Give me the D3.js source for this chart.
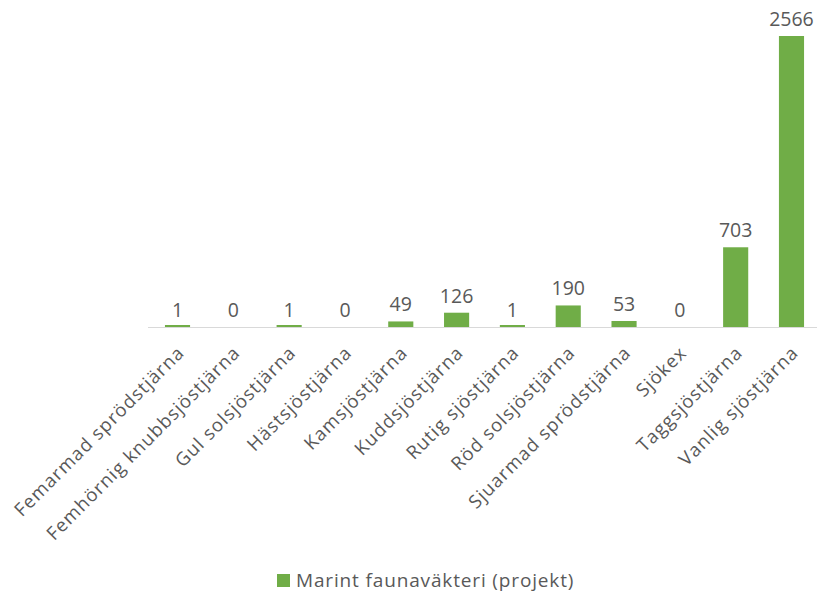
<!DOCTYPE html>
<html>
<head>
<meta charset="utf-8">
<script src="https://cdn.jsdelivr.net/npm/d3@7"></script>
<style>
  html, body { margin: 0; padding: 0; background: #fff; }
  svg { display: block; font-family: "Open Sans", "Noto Sans", sans-serif; }
</style>
</head>
<body>
<svg id="chart" width="817" height="599"></svg>
<script>
// Observations per species
const species = [
  "Femarmad sprödstjärna",
  "Femhörnig knubbsjöstjärna",
  "Gul solsjöstjärna",
  "Hästsjöstjärna",
  "Kamsjöstjärna",
  "Kuddsjöstjärna",
  "Rutig sjöstjärna",
  "Röd solsjöstjärna",
  "Sjuarmad sprödstjärna",
  "Sjökex",
  "Taggsjöstjärna",
  "Vanlig sjöstjärna"
];
const counts = [1, 0, 1, 0, 49, 126, 1, 190, 53, 0, 703, 2566];
const seriesName = "Marint faunaväkteri (projekt)";

const svg = d3.select("#chart");
const green = "#70AD47";
const textColor = "#595959";

const x = d3.scaleBand()
  .domain(species)
  .range([149.6, 819.4])
  .paddingInner(0.55)
  .paddingOuter(0.275);

const y = d3.scaleLinear()
  .domain([0, 2566])
  .range([327, 36]);

// Bars (tiny non-zero values get a hairline so they stay visible)
svg.append("g").selectAll("rect")
  .data(species)
  .join("rect")
  .attr("x", d => x(d))
  .attr("width", x.bandwidth())
  .attr("y", (d, i) => counts[i] > 0 ? Math.min(y(counts[i]), y(0) - 2) : y(0))
  .attr("height", (d, i) => counts[i] > 0 ? Math.max(y(0) - y(counts[i]), 2) : 0)
  .attr("fill", green);

// Baseline
svg.append("line")
  .attr("x1", 148).attr("x2", 817)
  .attr("y1", y(0) + 0.5).attr("y2", y(0) + 0.5)
  .attr("stroke", "#d9d9d9")
  .attr("stroke-width", 1);

// Value labels
svg.append("g").selectAll("text")
  .data(species)
  .join("text")
  .attr("x", d => x(d) + x.bandwidth() / 2)
  .attr("y", (d, i) => y(counts[i]) - 10)
  .attr("text-anchor", "middle")
  .attr("font-size", 19.5)
  .attr("fill", textColor)
  .text((d, i) => counts[i]);

// Category labels, rotated
svg.append("g").selectAll("text")
  .data(species)
  .join("text")
  .attr("transform", d => `translate(${x(d) + x.bandwidth() / 2 + 8},${y(0) + 27}) rotate(-45)`)
  .attr("text-anchor", "end")
  .attr("font-size", 18.5)
  .attr("letter-spacing", 1.1)
  .attr("fill", textColor)
  .text(d => d);

// Legend
const legend = svg.append("g").attr("transform", "translate(277,574)");
legend.append("rect")
  .attr("width", 13).attr("height", 13)
  .attr("fill", green);
legend.append("text")
  .attr("x", 19).attr("y", 13)
  .attr("font-size", 19)
  .attr("letter-spacing", 0.85)
  .attr("fill", textColor)
  .text(seriesName);
</script>
</body>
</html>
